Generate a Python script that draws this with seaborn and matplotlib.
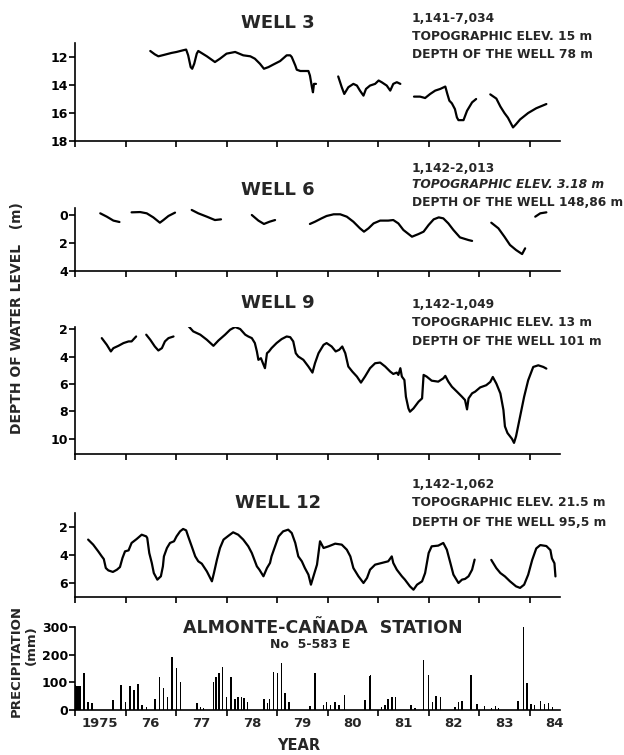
import pandas as pd
import numpy as np
import seaborn as sns
import matplotlib
matplotlib.use('Agg')
import matplotlib.pyplot as plt

sns.set_style('ticks')
plt.rcParams['font.family'] = ['DejaVu Sans']
plt.rcParams['font.weight'] = 'bold'

# None marks a gap in the record
well3_year = [1976.49, 1976.58, 1976.65, 1976.75, 1976.91, 1977.01, 1977.14, 1977.20, 1977.24, 1977.29,
              1977.32, 1977.36, 1977.41, 1977.44, 1977.61, 1977.77, 1977.87, 1978.00, 1978.17, 1978.33,
              1978.47, 1978.56, 1978.66, 1978.74, 1978.83, 1978.93, 1979.06, 1979.19, 1979.26, 1979.29,
              1979.36, 1979.39, 1979.46, 1979.62, 1979.65, 1979.69, 1979.71, 1979.73, 1979.77, None,
              1980.21, 1980.28, 1980.33, 1980.37, 1980.41, 1980.51, 1980.58, 1980.64, 1980.71, 1980.76,
              1980.84, 1980.94, 1981.01, 1981.07, 1981.17, 1981.24, 1981.30, 1981.37, 1981.44, None,
              1981.71, 1981.83, 1981.93, 1982.03, 1982.13, 1982.23, 1982.33, 1982.37, 1982.41, 1982.46,
              1982.52, 1982.56, 1982.59, 1982.69, 1982.76, 1982.86, 1982.94, None,
              1983.22, 1983.34, 1983.42, 1983.50, 1983.57, 1983.67, 1983.73, 1983.81, 1983.97, 1984.13, 1984.33]
well3_depth = [11.57, 11.81, 11.95, 11.86, 11.71, 11.64, 11.52, 11.47, 11.88, 12.72,
               12.84, 12.48, 11.76, 11.57, 11.95, 12.36, 12.12, 11.76, 11.64, 11.88,
               11.95, 12.12, 12.48, 12.84, 12.72, 12.53, 12.29, 11.88, 11.88, 12.00,
               12.60, 12.91, 13.00, 13.00, 13.32, 14.16, 14.52, 13.92, 13.92, None,
               13.39, 14.16, 14.64, 14.40, 14.16, 13.92, 14.04, 14.40, 14.76, 14.28,
               14.04, 13.92, 13.68, 13.80, 14.04, 14.40, 13.92, 13.80, 13.92, None,
               14.83, 14.83, 14.93, 14.64, 14.40, 14.28, 14.11, 14.64, 15.12, 15.31,
               15.72, 16.32, 16.51, 16.51, 15.84, 15.24, 15.00, None,
               14.67, 14.97, 15.54, 16.00, 16.34, 17.03, 16.80, 16.46, 16.00, 15.66, 15.36]

well6_year = [1975.50, 1975.63, 1975.76, 1975.88, None,
              1976.12, 1976.29, 1976.42, 1976.55, 1976.68, 1976.75, 1976.85, 1976.98, None,
              1977.31, 1977.44, 1977.61, 1977.77, 1977.89, None,
              1978.50, 1978.63, 1978.74, 1978.85, 1978.96, None,
              1979.65, 1979.75, 1979.88, 1979.98, 1980.12, 1980.25, 1980.38, 1980.51, 1980.64, 1980.72,
              1980.81, 1980.91, 1981.04, 1981.20, 1981.30, 1981.40, 1981.50, 1981.67, 1981.80, 1981.90,
              1982.00, 1982.10, 1982.20, 1982.29, 1982.39, 1982.49, 1982.62, 1982.79, 1982.86, None,
              1983.24, 1983.38, 1983.50, 1983.61, 1983.73, 1983.85, 1983.91, None,
              1984.11, 1984.21, 1984.33]
well6_depth = [-0.12, 0.12, 0.40, 0.50, None,
               -0.19, -0.21, -0.12, 0.17, 0.55, 0.36, 0.07, -0.17, None,
               -0.36, -0.12, 0.12, 0.36, 0.31, None,
               0.00, 0.40, 0.64, 0.48, 0.36, None,
               0.64, 0.48, 0.24, 0.07, -0.05, -0.05, 0.12, 0.48, 0.95, 1.19,
               0.95, 0.60, 0.40, 0.40, 0.36, 0.60, 1.07, 1.55, 1.36, 1.19,
               0.71, 0.31, 0.17, 0.24, 0.60, 1.07, 1.60, 1.79, 1.85, None,
               0.55, 0.95, 1.55, 2.14, 2.50, 2.79, 2.38, None,
               0.12, -0.12, -0.19]

well9_year = [1975.53, 1975.63, 1975.71, 1975.76, 1975.86, 1975.96, 1976.06, 1976.12, 1976.21, None,
              1976.41, 1976.49, 1976.58, 1976.65, 1976.72, 1976.78, 1976.85, 1976.95, None,
              1977.24, 1977.34, 1977.48, 1977.61, 1977.74, 1977.84, 1977.97, 1978.07, 1978.17, 1978.27,
              1978.37, 1978.43, 1978.50, 1978.56, 1978.60, 1978.63, 1978.68, 1978.72, 1978.76, 1978.80,
              1978.84, 1978.89, 1978.99, 1979.09, 1979.19, 1979.26, 1979.32, 1979.37, 1979.42, 1979.52,
              1979.62, 1979.70, 1979.75, 1979.82, 1979.92, 1979.98, 1980.08, 1980.16, 1980.23, 1980.29,
              1980.35, 1980.41, 1980.49, 1980.58, 1980.66, 1980.74, 1980.84, 1980.94, 1981.04, 1981.14,
              1981.24, 1981.30, 1981.37, 1981.40, 1981.44, 1981.47, 1981.52, 1981.55, 1981.60, 1981.63,
              1981.70, 1981.80, 1981.87, 1981.90, 1981.96, 1982.06, 1982.19, 1982.29, 1982.33, 1982.39,
              1982.46, 1982.56, 1982.66, 1982.72, 1982.76, 1982.79, 1982.86, 1982.92, 1983.02, 1983.14,
              1983.22, 1983.27, 1983.34, 1983.42, 1983.48, 1983.51, 1983.56, 1983.65, 1983.69, 1983.73,
              1983.81, 1983.89, 1983.97, 1984.07, 1984.17, 1984.27, 1984.33]
well9_depth = [2.66, 3.15, 3.63, 3.39, 3.22, 3.02, 2.90, 2.90, 2.54, None,
               2.41, 2.78, 3.27, 3.56, 3.39, 2.90, 2.66, 2.54, None,
               1.76, 2.17, 2.41, 2.78, 3.22, 2.83, 2.41, 2.05, 1.85, 2.00,
               2.41, 2.54, 2.66, 3.02, 3.63, 4.24, 4.12, 4.49, 4.85, 3.76,
               3.63, 3.39, 3.02, 2.73, 2.54, 2.59, 2.90, 3.76, 4.00, 4.24,
               4.73, 5.17, 4.49, 3.76, 3.15, 3.02, 3.27, 3.63, 3.51, 3.27,
               3.76, 4.73, 5.10, 5.46, 5.90, 5.46, 4.85, 4.49, 4.44, 4.73,
               5.10, 5.27, 5.17, 5.34, 4.85, 5.46, 5.71, 6.93, 7.78, 8.02,
               7.78, 7.29, 7.05, 5.34, 5.46, 5.76, 5.83, 5.59, 5.41, 5.83,
               6.20, 6.56, 6.93, 7.17, 7.85, 7.05, 6.68, 6.56, 6.25, 6.09,
               5.85, 5.49, 5.97, 6.69, 7.89, 9.09, 9.57, 10.00, 10.29, 9.81,
               8.37, 6.93, 5.73, 4.76, 4.64, 4.76, 4.88]

well12_year = [1975.26, 1975.36, 1975.46, 1975.53, 1975.57, 1975.61, 1975.66, 1975.75, 1975.83, 1975.89,
               1975.94, 1975.99, 1976.06, 1976.12, 1976.22, 1976.32, 1976.41, 1976.43, 1976.47, 1976.52,
               1976.56, 1976.63, 1976.70, 1976.74, 1976.76, 1976.82, 1976.88, 1976.96, 1977.01, 1977.08,
               1977.14, 1977.20, 1977.24, 1977.31, 1977.38, 1977.44, 1977.51, 1977.61, 1977.71, 1977.75,
               1977.81, 1977.87, 1977.94, 1978.04, 1978.13, 1978.23, 1978.33, 1978.43, 1978.50, 1978.60,
               1978.65, 1978.73, 1978.80, 1978.86, 1978.89, 1978.96, 1979.03, 1979.12, 1979.22, 1979.29,
               1979.36, 1979.42, 1979.49, 1979.55, 1979.62, 1979.67, 1979.72, 1979.79, 1979.82, 1979.85,
               1979.92, 1980.02, 1980.15, 1980.28, 1980.38, 1980.45, 1980.51, 1980.61, 1980.71, 1980.78,
               1980.84, 1980.94, 1981.07, 1981.20, 1981.27, 1981.30, 1981.37, 1981.47, 1981.53, 1981.63,
               1981.70, 1981.77, 1981.87, 1981.93, 1982.00, 1982.06, 1982.19, 1982.29, 1982.36, 1982.43,
               1982.49, 1982.59, 1982.66, 1982.72, 1982.79, 1982.86, 1982.91, None,
               1983.24, 1983.34, 1983.42, 1983.51, 1983.61, 1983.73, 1983.81, 1983.89, 1983.97, 1984.05,
               1984.13, 1984.21, 1984.33, 1984.41, 1984.44, 1984.49, 1984.51]
well12_depth = [2.90, 3.26, 3.74, 4.10, 4.29, 4.93, 5.10, 5.21, 5.05, 4.86,
                4.21, 3.74, 3.67, 3.14, 2.86, 2.55, 2.67, 2.79, 3.86, 4.57,
                5.29, 5.76, 5.52, 4.81, 4.10, 3.50, 3.14, 3.02, 2.67, 2.31,
                2.14, 2.24, 2.67, 3.38, 4.10, 4.45, 4.62, 5.17, 5.88, 5.29,
                4.33, 3.50, 2.90, 2.62, 2.38, 2.55, 2.90, 3.38, 3.86, 4.81,
                5.05, 5.52, 4.93, 4.57, 4.10, 3.38, 2.67, 2.31, 2.19, 2.43,
                3.14, 4.10, 4.45, 4.93, 5.40, 6.12, 5.52, 4.69, 3.86, 3.02,
                3.50, 3.38, 3.19, 3.26, 3.62, 4.10, 4.93, 5.52, 6.00, 5.64,
                5.05, 4.69, 4.57, 4.45, 4.10, 4.57, 5.05, 5.52, 5.76, 6.24,
                6.48, 6.12, 5.88, 5.29, 3.86, 3.38, 3.33, 3.14, 3.62, 4.57,
                5.40, 6.00, 5.76, 5.71, 5.52, 5.05, 4.33, None,
                4.35, 4.94, 5.29, 5.53, 5.88, 6.24, 6.35, 6.12, 5.41, 4.35,
                3.53, 3.29, 3.36, 3.65, 4.24, 4.59, 5.53]

precip_year = [1975.01, 1975.04, 1975.07, 1975.10, 1975.18, 1975.26, 1975.34, 1975.75, 1975.91, 1976.00,
               1976.09, 1976.17, 1976.25, 1976.33, 1976.42, 1976.58, 1976.67, 1976.75, 1976.83, 1976.92,
               1977.01, 1977.09, 1977.41, 1977.48, 1977.54, 1977.74, 1977.79, 1977.85, 1977.92, 1978.00,
               1978.09, 1978.17, 1978.23, 1978.30, 1978.35, 1978.41, 1978.74, 1978.81, 1978.85, 1978.93,
               1979.01, 1979.09, 1979.16, 1979.24, 1979.65, 1979.75, 1979.92, 1979.98, 1980.06, 1980.15,
               1980.23, 1980.33, 1980.74, 1980.83, 1980.85, 1981.07, 1981.14, 1981.20, 1981.27, 1981.34,
               1981.65, 1981.73, 1981.90, 1982.00, 1982.08, 1982.15, 1982.23, 1982.52, 1982.59, 1982.66,
               1982.84, 1982.96, 1983.11, 1983.24, 1983.32, 1983.38, 1983.77, 1983.88, 1983.95, 1984.03,
               1984.10, 1984.21, 1984.29, 1984.37, 1984.45]
precip_mm = [91, 85, 85, 85, 133, 30, 24, 36, 91, 30,
             87, 73, 93, 18, 10, 39, 118, 79, 46, 191,
             151, 103, 24, 10, 6, 100, 121, 133, 155, 46,
             118, 39, 46, 46, 42, 30, 39, 27, 39, 139,
             135, 169, 60, 30, 15, 135, 18, 30, 18, 30,
             18, 54, 36, 123, 127, 10, 18, 39, 46, 46,
             18, 6, 179, 127, 30, 51, 48, 10, 30, 33,
             127, 22, 14, 8, 15, 6, 32, 300, 97, 20,
             17, 32, 22, 24, 12]

year_labels = ['1975', '76', '77', '78', '79', '80', '81', '82', '83', '84']


def to_frame(years, depth):
    seg, rows = 0, []
    for y, d in zip(years, depth):
        if y is None:
            seg += 1
            continue
        rows.append((y, d, seg))
    return pd.DataFrame(rows, columns=['year', 'depth', 'seg'])


W, H = 624, 755
fig = plt.figure(figsize=(W / 100, H / 100), dpi=100)
fig.patch.set_facecolor('white')

x0, x1 = 75, 560
xlim = (1975.0, 1984.6)


def make_axes(ytop_px, ybot_px):
    return fig.add_axes([x0 / W, 1 - ybot_px / H, (x1 - x0) / W, (ybot_px - ytop_px) / H])


def style_axes(ax):
    ax.set_facecolor('white')
    sns.despine(ax=ax)
    for s in ['left', 'bottom']:
        ax.spines[s].set_linewidth(1.2)
        ax.spines[s].set_color('black')
    ax.tick_params(axis='both', which='major', direction='out', length=4, width=1.2,
                   labelsize=9, pad=1, colors='black')
    ax.set_xlim(*xlim)
    ax.set_xticks(range(1975, 1985))
    ax.set_xlabel('')
    ax.set_ylabel('')


# well panels: (title, frame, ylim, yticks, axes top/bottom in px, title y, info lines, info y)
wells = [
    ('WELL 3', to_frame(well3_year, well3_depth), (18, 11), [12, 14, 16, 18], (43, 141), 23,
     ['1,141-7,034', 'TOPOGRAPHIC ELEV. 15 m', 'DEPTH OF THE WELL 78 m'], (19, 37, 55)),
    ('WELL 6', to_frame(well6_year, well6_depth), (4, -0.5), [0, 2, 4], (208, 271), 190,
     ['1,142-2,013', 'TOPOGRAPHIC ELEV. 3.18 m', 'DEPTH OF THE WELL 148,86 m'], (168, 185, 202)),
    ('WELL 9', to_frame(well9_year, well9_depth), (11.1, 1.85), [2, 4, 6, 8, 10], (327, 454), 303,
     ['1,142-1,049', 'TOPOGRAPHIC ELEV. 13 m', 'DEPTH OF THE WELL 101 m'], (304, 323, 342)),
    ('WELL 12', to_frame(well12_year, well12_depth), (7, 1), [2, 4, 6], (513, 597), 503,
     ['1,142-1,062', 'TOPOGRAPHIC ELEV. 21.5 m', 'DEPTH OF THE WELL 95,5 m'], (485, 503, 522)),
]

for title, df, ylim, yticks, (ytop, ybot), ty, info, iy in wells:
    ax = make_axes(ytop, ybot)
    sns.lineplot(data=df, x='year', y='depth', units='seg', estimator=None, sort=False,
                 color='black', lw=1.6, ax=ax)
    style_axes(ax)
    ax.set_ylim(*ylim)
    ax.set_yticks(yticks)
    ax.set_xticklabels([])
    fig.text(278 / W, 1 - ty / H, title, ha='center', va='center', fontsize=13, weight='bold')
    for k, (line, yy) in enumerate(zip(info, iy)):
        style = 'italic' if (title == 'WELL 6' and k == 1) else 'normal'
        fig.text(412 / W, 1 - yy / H, line, ha='left', va='center', fontsize=8.8,
                 weight='bold', style=style)

# precipitation panel
axp = make_axes(627, 710)
axp.bar(precip_year, precip_mm, width=0.03, color='black', linewidth=0)
style_axes(axp)
axp.set_ylim(0, 300)
axp.set_yticks([0, 100, 200, 300])
axp.set_xticklabels([])
axp.set_xticks(np.arange(1975.5, 1985, 1.0), minor=True)
axp.set_xticklabels(year_labels, minor=True)
axp.tick_params(axis='x', which='minor', length=0, labelsize=9.5, pad=5)

fig.text(323 / W, 1 - 628 / H, 'ALMONTE-CAÑADA  STATION', ha='center', va='center',
         fontsize=12.5, weight='bold')
fig.text(310 / W, 1 - 644 / H, 'No  5-583 E', ha='center', va='center', fontsize=9, weight='bold')
fig.text(299 / W, 1 - 745 / H, 'YEAR', ha='center', va='center', fontsize=10.5, weight='bold')

fig.text(17 / W, 1 - 318 / H, 'DEPTH OF WATER LEVEL   (m)', rotation=90, ha='center',
         va='center', fontsize=10, weight='bold')
fig.text(16 / W, 1 - 661 / H, 'PRECIPITATION', rotation=90, ha='center', va='center',
         fontsize=9.5, weight='bold')
fig.text(31 / W, 1 - 645 / H, '(mm)', rotation=90, ha='center', va='center',
         fontsize=9.5, weight='bold')

fig.savefig('out.png', dpi=100, facecolor='white')
